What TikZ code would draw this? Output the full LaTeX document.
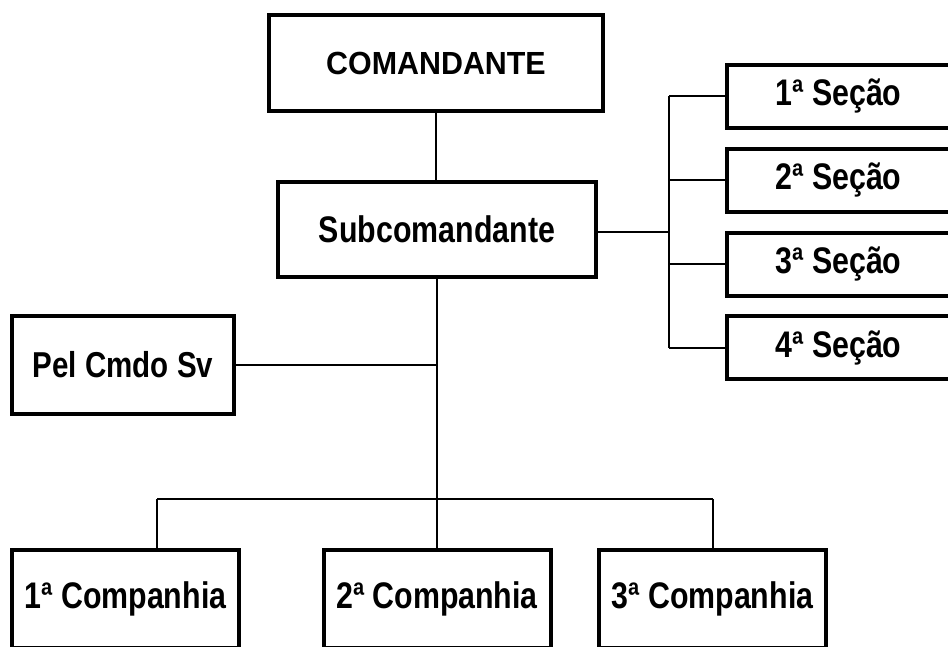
\documentclass[tikz,border=0pt]{standalone}
\usepackage{fontspec}
\newfontfamily\orgfont{Liberation Sans}[FakeStretch=0.82]
\newfontfamily\topfont{Liberation Sans}[FakeStretch=0.95]
\usetikzlibrary{positioning}

\begin{document}
\begin{tikzpicture}[x=1pt, y=-1pt,
  unit/.style={draw, line width=4pt, rectangle, inner sep=0pt,
    font=\orgfont\bfseries\fontsize{37}{40}\selectfont},
  secao/.style={unit, minimum width=223pt, minimum height=63pt},
  cia/.style={unit, minimum width=227pt, minimum height=98pt},
  link/.style={line width=2pt}]

\clip (0,0) rectangle (948,647);

% Command
\node[unit, minimum width=334pt, minimum height=96pt,
  font=\topfont\bfseries\fontsize{32}{36}\selectfont] (cmd) at (436,63) {COMANDANTE};
\node[unit, minimum width=318pt, minimum height=95pt] (sub) at (437,229.5) {Subcomandante};

% Staff sections
\node[secao] (sec1) at (838.5,96.5) {1ª Seção};
\node[secao, below=16.8pt of sec1] (sec2) {2ª Seção};
\node[secao, below=16.8pt of sec2] (sec3) {3ª Seção};
\node[secao, below=16.8pt of sec3] (sec4) {4ª Seção};

% Platoon and companies
\node[unit, minimum width=222pt, minimum height=98pt,
  font=\orgfont\bfseries\fontsize{36}{39}\selectfont] (pel) at (123,365) {Pel Cmdo Sv};
\node[cia] (cia1) at (125.5,599) {1ª Companhia};
\node[cia] (cia2) at (437,599) {2ª Companhia};
\node[cia] (cia3) at (712.5,599) {3ª Companhia};

% Connectors
\coordinate (bus) at (669,232);
\coordinate (trunk) at (437,499);
\coordinate (b1) at (157,499);
\coordinate (b3) at (713,499);

\draw[link] (cmd.south) -- (cmd.south |- sub.north);
\draw[link] (sub.east |- bus) -- (bus);
\draw[link] (bus |- sec1.west) -- (bus |- sec4.west);
\foreach \s in {1,...,4}
  \draw[link] (bus |- sec\s.west) -- (sec\s.west);

\draw[link] (sub.south) -- (trunk);
\draw[link] (pel.east) -- (pel.east -| trunk);
\draw[link] (b1) -- (b3);
\draw[link] (b1) -- (b1 |- cia1.north);
\draw[link] (trunk) -- (cia2.north);
\draw[link] (b3) -- (b3 |- cia3.north);

\end{tikzpicture}
\end{document}
